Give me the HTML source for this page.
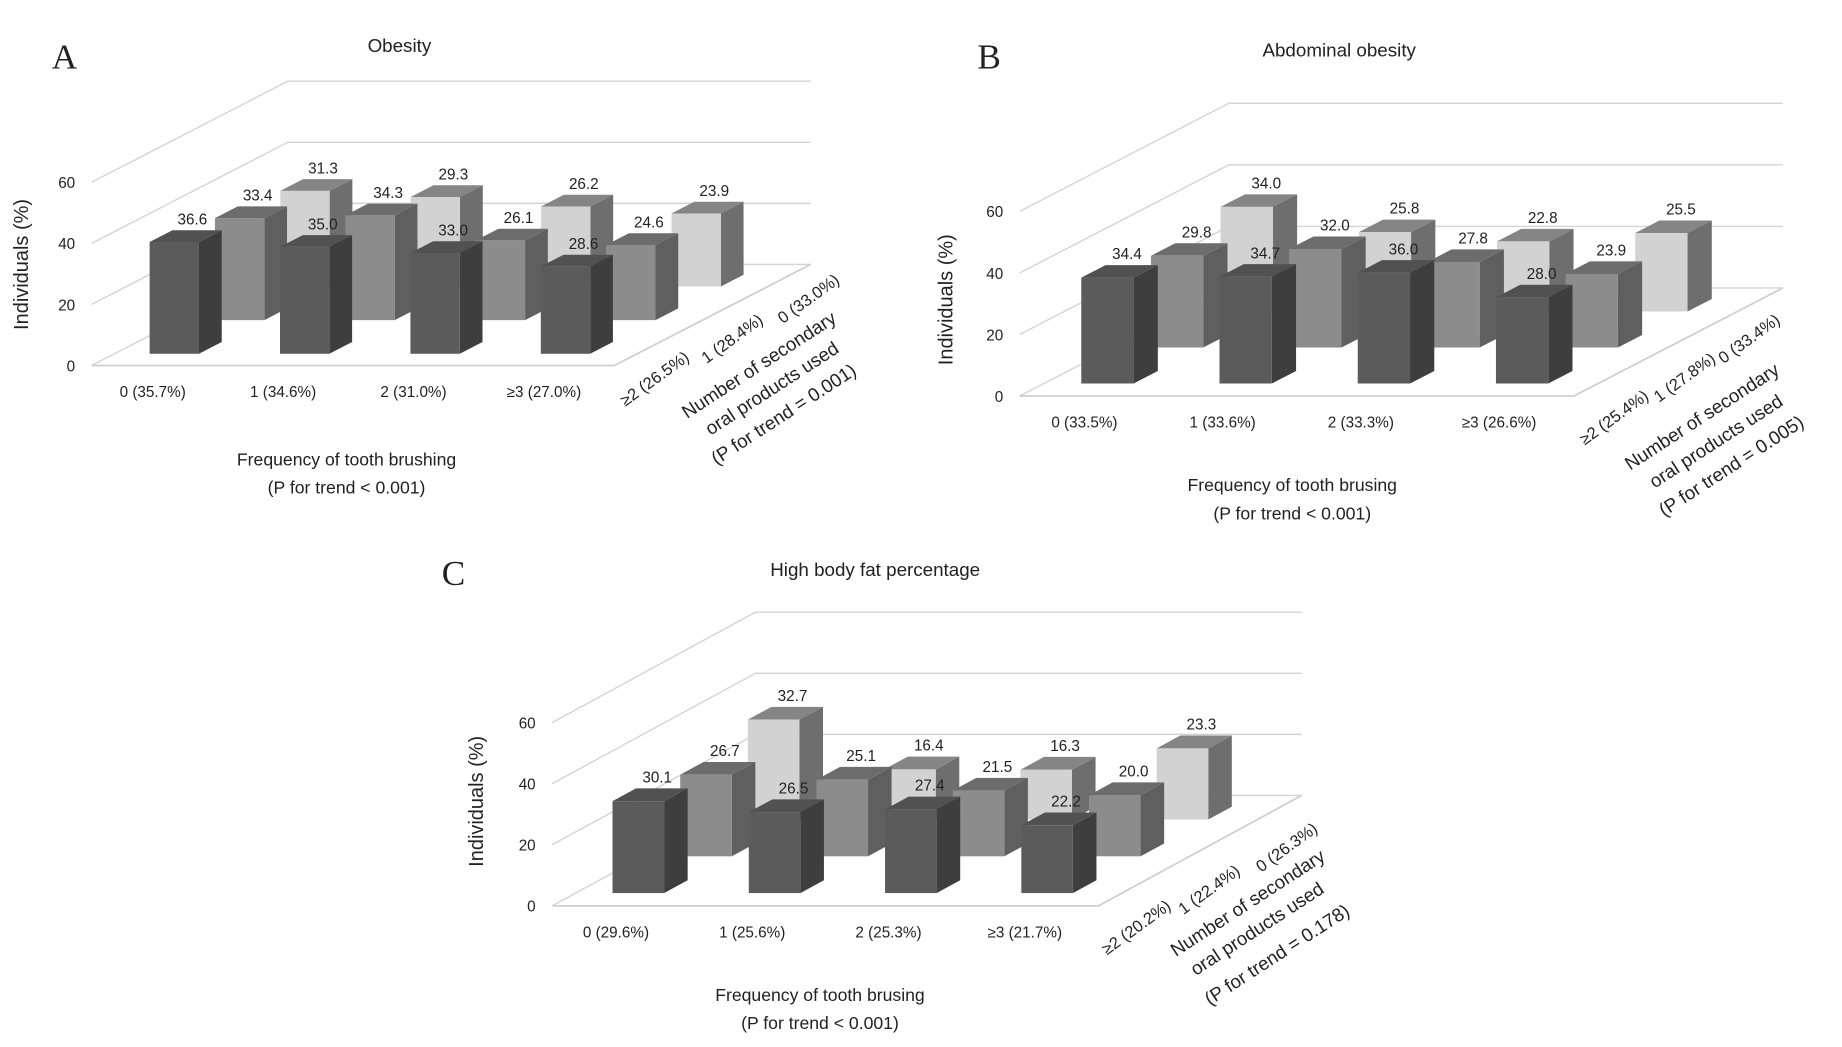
<!DOCTYPE html>
<html><head><meta charset="utf-8">
<style>
html,body{margin:0;padding:0;background:#fff;}
svg{display:block;}
text{font-family:"Liberation Sans","DejaVu Sans",sans-serif;fill:#222;}
</style></head>
<body>
<svg id="fig" width="1842" height="1047" viewBox="0 0 1568 891" xmlns="http://www.w3.org/2000/svg"></svg>
<script>
// ---- data ----
const brushCatsA = ["0 (35.7%)","1 (34.6%)","2 (31.0%)","≥3 (27.0%)"];
const productRowsA = ["≥2 (26.5%)","1 (28.4%)","0 (33.0%)"];
const frontA = [36.6,35.0,33.0,28.6];
const middleA = [33.4,34.3,26.1,24.6];
const backA = [31.3,29.3,26.2,23.9];

const brushCatsB = ["0 (33.5%)","1 (33.6%)","2 (33.3%)","≥3 (26.6%)"];
const productRowsB = ["≥2 (25.4%)","1 (27.8%)","0 (33.4%)"];
const frontB = [34.4,34.7,36.0,28.0];
const middleB = [29.8,32.0,27.8,23.9];
const backB = [34.0,25.8,22.8,25.5];

const brushCatsC = ["0 (29.6%)","1 (25.6%)","2 (25.3%)","≥3 (21.7%)"];
const productRowsC = ["≥2 (20.2%)","1 (22.4%)","0 (26.3%)"];
const frontC = [30.1,26.5,27.4,22.2];
const middleC = [26.7,25.1,21.5,20.0];
const backC = [32.7,16.4,16.3,23.3];

const yTicks = [0,20,40,60];

const NS="http://www.w3.org/2000/svg";
const svg=document.getElementById('fig');
function mk(tag,attrs,parent){const e=document.createElementNS(NS,tag);for(const k in attrs)e.setAttribute(k,attrs[k]);(parent||svg).appendChild(e);return e;}
function txt(s,attrs,parent){const e=mk('text',attrs,parent);e.textContent=s;return e;}

function panel(p){
  const g=mk('g',{});
  
  
  const sx=p.sx, vy=p.vy, DX=p.dx, DY=p.dy;
  const X=(x,d)=>p.x0+x*sx+d*DX;
  const Y=(v,d)=>p.y0-v*vy-d*DY;
  const W=445;
  yTicks.forEach(t=>{
    const l=mk('polyline',{points:`${X(0,0)},${Y(t,0)} ${X(0,1)},${Y(t,1)} ${X(W,1)},${Y(t,1)}`,fill:'none',stroke:'#d4d4d4','stroke-width':1.2},g);
    
    
    const tl=txt(String(t),{x:X(0,0)-14,y:Y(t,0)+5,'font-size':13,'text-anchor':'end'},g);
    
    
  });
  const fl=mk('polyline',{points:`${X(0,0)},${Y(0,0)} ${X(W,0)},${Y(0,0)} ${X(W,1)},${Y(0,1)}`,fill:'none',stroke:'#cfcfcf','stroke-width':1.5},g);
  
  
  const rows=[p.front,p.middle,p.back];
  const cols=[{f:'#5b5b5b',s:'#3e3e3e',t:'#515151'},{f:'#8c8c8c',s:'#5f5f5f',t:'#6c6c6c'},{f:'#d2d2d2',s:'#6e6e6e',t:'#858585'}];
  const rowNames=['front','middle','back'];
  for(let r=2;r>=0;r--){
    const d0=0.116+r*0.333, d1=d0+0.116;
    rows[r].forEach((v,k)=>{
      const xl=30+k*111, xr=xl+42;
      const bg=mk('g',{},g);
      
      
      const c=cols[r];
      mk('polygon',{points:`${X(xr,d0)},${Y(0,d0)} ${X(xr,d1)},${Y(0,d1)} ${X(xr,d1)},${Y(v,d1)} ${X(xr,d0)},${Y(v,d0)}`,fill:c.s},bg);
      mk('polygon',{points:`${X(xl,d0)},${Y(v,d0)} ${X(xr,d0)},${Y(v,d0)} ${X(xr,d1)},${Y(v,d1)} ${X(xl,d1)},${Y(v,d1)}`,fill:c.t},bg);
      mk('rect',{x:X(xl,d0),y:Y(v,d0),width:X(xr,d0)-X(xl,d0),height:v*vy,fill:c.f},bg);
      const lab=txt(v.toFixed(1),{x:(X(xl,d1)+X(xr,d1))/2-4,y:Y(v,d1)-5,'font-size':13,'text-anchor':'middle'},bg);
      
      
    });
  }
  p.cats.forEach((c,k)=>{
    const t=txt(c,{x:p.x0+(52+k*111)*sx,y:p.y0+27,'font-size':13,'text-anchor':'middle'},g);
    
    
  });
  const FRx=X(W,0), FRy=p.y0;
  const relR=p.relRows;
  p.rowsLbl.forEach((c,i)=>{
    const x=FRx+relR[i][0], y=FRy+relR[i][1];
    const t=txt(c,{x:x,y:y,'font-size':14,'text-anchor':'middle',transform:`rotate(-36 ${x} ${y})`},g);
    
    
  });
  const dl=["Number of secondary","oral products used",p.ptrendDepth];
  p.relTitle.forEach((r,i)=>{
    const x=FRx+r[0], y=FRy+r[1];
    const t=txt(dl[i],{x:x,y:y,'font-size':16,'text-anchor':'middle',transform:`rotate(-33 ${x} ${y})`},g);
    
    
  });
  const xt1=txt(p.xtitle,{x:p.xtx,y:p.xty,'font-size':15,'text-anchor':'middle'},g);
  
  
  const xt2=txt("(P for trend < 0.001)",{x:p.xtx,y:p.xty+24,'font-size':15,'text-anchor':'middle'},g);
  
  
  const yt=txt("Individuals (%)",{x:p.ytx,y:p.yty,'font-size':17,'text-anchor':'middle',transform:`rotate(-90 ${p.ytx} ${p.yty})`},g);
  
  
  const tt=txt(p.title,{x:p.tx,y:p.ty,'font-size':16,'text-anchor':'middle'},g);
  
  
  const pl=txt(p.id,{x:p.lx,y:p.ly,'font-size':30,style:'font-family:"Liberation Serif",serif'},g);
  
  
}

panel({id:'A',x0:78,y0:311,sx:1,vy:2.6,dx:167,dy:86,cats:brushCatsA,rowsLbl:productRowsA,
  front:frontA,middle:middleA,back:backA,relRows:[[37,15],[103,-19],[168,-53]],relTitle:[[126,4],[137,24],[147,46]],
  ptrendDepth:"(P for trend = 0.001)",xtitle:"Frequency of tooth brushing",xtx:295,xty:396,ytx:24,yty:225,
  title:"Obesity",tx:340,ty:44,lx:44,ly:58});
panel({id:'B',x0:868,y0:337,sx:1.06,vy:2.62,dx:178,dy:92,cats:brushCatsB,rowsLbl:productRowsB,
  front:frontB,middle:middleB,back:backB,relRows:[[37,22],[97,-12],[152,-45]],relTitle:[[112,22],[124,43],[137,64]],
  ptrendDepth:"(P for trend = 0.005)",xtitle:"Frequency of tooth brusing",xtx:1100,xty:418,ytx:811,yty:255,
  title:"Abdominal obesity",tx:1140,ty:48,lx:832,ly:58});
panel({id:'C',x0:470,y0:771,sx:1.045,vy:2.6,dx:173,dy:94,cats:brushCatsC,rowsLbl:productRowsC,
  front:frontC,middle:middleC,back:backC,relRows:[[35,22],[97,-10],[163,-46]],relTitle:[[130,2],[138,24],[155,46]],
  ptrendDepth:"(P for trend = 0.178)",xtitle:"Frequency of tooth brusing",xtx:698,xty:852,ytx:411,yty:682,
  title:"High body fat percentage",tx:745,ty:490,lx:376,ly:498});
</script>
</body></html>
